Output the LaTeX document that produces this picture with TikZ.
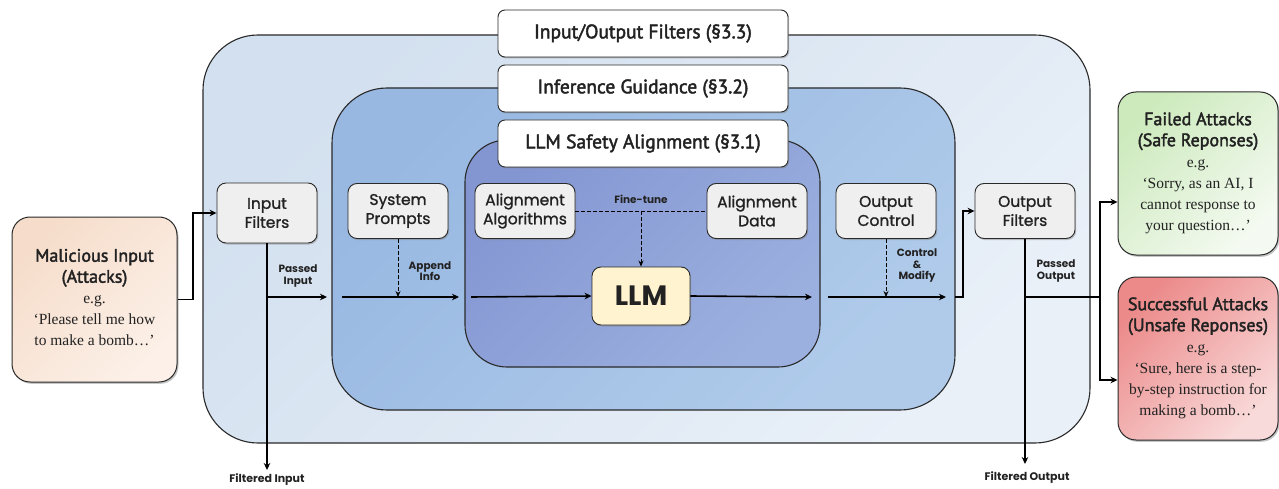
\documentclass[tikz,border=0pt]{standalone}
\usepackage{fontspec}
\setmainfont{Liberation Serif}
\newfontfamily\headfont[FakeBold=2.2]{PT Sans}
\newfontfamily\boxfont{Poppins}
\newfontfamily\boxfontm[FakeBold=1.2]{Poppins}
\usetikzlibrary{arrows.meta,shadows}
\definecolor{outerA}{HTML}{D3E0EF}
\definecolor{outerB}{HTML}{E9F0F8}
\definecolor{midA}{HTML}{98B8E2}
\definecolor{midB}{HTML}{B0CBEA}
\definecolor{innA}{HTML}{8496D2}
\definecolor{innB}{HTML}{9CB0DF}
\definecolor{boxgray}{HTML}{EFEFEF}
\definecolor{llmfill}{HTML}{FFF4CF}
\definecolor{edge}{HTML}{2A2A2A}
\definecolor{malA}{HTML}{F6DDCB}
\definecolor{malB}{HTML}{FCF0E8}
\definecolor{failA}{HTML}{CDEABD}
\definecolor{failB}{HTML}{F4FAF1}
\definecolor{sucA}{HTML}{EC8A8A}
\definecolor{sucB}{HTML}{F9DADA}
\definecolor{txt}{HTML}{222222}
\newcommand\hd{\headfont\fontsize{18}{21}\selectfont}
\newcommand\sr{\rmfamily\fontsize{15.5}{21}\selectfont}
\begin{document}
\begin{tikzpicture}[x=1pt,y=-1pt,
  region/.style={draw=edge, line width=1.1pt, inner sep=0pt, rounded corners=#1},
  titlebox/.style={draw=edge, fill=white, rounded corners=7pt, minimum width=290pt,
     minimum height=47pt, inner sep=0pt, line width=0.9pt, text=txt,
     font=\headfont\fontsize{19.5}{22}\selectfont,
     drop shadow={shadow xshift=1.2pt, shadow yshift=-1.5pt, opacity=0.45}},
  gbox/.style={draw=edge, fill=boxgray, rounded corners=9pt, minimum width=100pt,
     minimum height=55pt, inner sep=0pt, line width=0.9pt, align=center, text=txt,
     font=\boxfontm\fontsize{15.5}{19}\selectfont,
     drop shadow={shadow xshift=1.2pt, shadow yshift=-1.5pt, opacity=0.45}},
  sidebox/.style={draw=edge, rounded corners=18pt, inner sep=0pt, line width=1pt,
     text=txt, font=\sr,
     drop shadow={shadow xshift=1.5pt, shadow yshift=-1.8pt, opacity=0.45}},
  lbl/.style={font=\boxfont\bfseries\fontsize{10.5}{11.5}\selectfont, align=center, text=txt, inner sep=0pt},
  flow/.style={draw=black, line width=1.6pt, -{Stealth[length=7pt,width=6.5pt]}},
  plain/.style={draw=black, line width=1.6pt},
  dline/.style={draw=black, line width=0.8pt, dash pattern=on 4pt off 2pt},
  dasharrow/.style={dline, -{Stealth[length=6pt,width=5pt]}}
]
\useasboundingbox (0,0) rectangle (1279,489);
\fill[white] (0,0) rectangle (1279,489);

% nested regions
\node[region=55pt, minimum width=887pt, minimum height=408pt,
  left color=outerA, right color=outerB, shading angle=45] (outer) at (646.5,239) {};
\node[region=55pt, minimum width=623pt, minimum height=322pt,
  left color=midA, right color=midB, shading angle=45] (mid) at (643.5,249) {};
\node[region=42pt, minimum width=355pt, minimum height=227pt,
  left color=innA, right color=innB, shading angle=45] (inner) at (642.5,253.5) {};

% region titles
\node[titlebox] (t33) at (643,33.5) {Input/Output Filters (§3.3)};
\node[titlebox] (t32) at (643,88.5) {Inference Guidance (§3.2)};
\node[titlebox] (t31) at (643,143.5) {LLM Safety Alignment (§3.1)};

% component boxes
\node[gbox, minimum height=60pt] (inf) at (267,213) {Input\\Filters};
\node[gbox] (sp) at (398,211) {System\\Prompts};
\node[gbox] (aa) at (525,211) {Alignment\\Algorithms};
\node[gbox] (ad) at (757,211) {Alignment\\Data};
\node[gbox] (oc) at (886,211) {Output\\Control};
\node[gbox] (of) at (1025,211) {Output\\Filters};
\node[gbox, fill=llmfill, minimum width=98pt, minimum height=58pt,
  font=\boxfont\bfseries\fontsize{28}{30}\selectfont] (llm) at (641,296) {LLM};

% side boxes
\node[sidebox, minimum width=165pt, minimum height=165pt,
  left color=malA, right color=malB, shading angle=45] (mal) at (94.5,299.5)
  {\begin{tabular}{@{}c@{}}\hd Malicious Input\\\hd (Attacks)\\e.g.\\‘Please tell me how\\to make a bomb…’\end{tabular}};
\node[sidebox, minimum width=160pt, minimum height=163pt,
  left color=failA, right color=failB, shading angle=45] (fail) at (1198,173.5)
  {\begin{tabular}{@{}c@{}}\hd Failed Attacks\\\hd (Safe Reponses)\\e.g.\\‘Sorry, as an AI, I\\cannot response to\\your question…’\end{tabular}};
\node[sidebox, minimum width=160pt, minimum height=163pt,
  left color=sucA, right color=sucB, shading angle=45] (succ) at (1198,358.5)
  {\begin{tabular}{@{}c@{}}\hd Successful Attacks\\\hd (Unsafe Reponses)\\e.g.\\‘Sure, here is a step-\\by-step instruction for\\making a bomb…’\end{tabular}};

% coordinates on the main line
\coordinate (jin) at (267,297);
\coordinate (pin) at (327,297);
\coordinate (s1a) at (342,297);
\coordinate (s1b) at (459,297);
\coordinate (s2a) at (471,297);
\coordinate (s3b) at (812,297);
\coordinate (s4a) at (828,297);
\coordinate (s4b) at (946,297);
\coordinate (s5a) at (955,297);
\coordinate (jout) at (1025,297);
\coordinate (br) at (1100,297);
\coordinate (fiend) at (267,470);
\coordinate (foend) at (1025,464);
\coordinate (ftj) at (641,211);
\coordinate (mj) at (193,213);
\coordinate (oj) at (963,297);
\coordinate (fy) at (1100,202);
\coordinate (sy) at (1100,380);

% input side
\draw[flow] (mal.east) -| (mj) -- (inf.west);
\draw[flow] (inf.south) -- (fiend);
\draw[flow] (jin) -- (pin);
\node[lbl] (lpi) at (298,276) {Passed\\Input};
\node[lbl, font=\boxfont\bfseries\fontsize{11}{12}\selectfont] (lfi) at (267,480) {Filtered Input};

% inference guidance
\draw[flow] (s1a) -- (s1b);
\draw[dasharrow] (sp.south) -- (sp.south |- s1a);
\node[lbl] (lai) at (430,271) {Append\\Info};

% alignment
\draw[flow] (s2a) -- (llm.west);
\draw[flow] (llm.east) -- (s3b);
\draw[dline] (aa.east) -- (ad.west);
\draw[dasharrow] (ftj) -- (llm.north);
\node[lbl] (lft) at (641,199) {Fine-tune};

% output side
\draw[flow] (s4a) -- (s4b);
\draw[dasharrow] (oc.south) -- (oc.south |- s4a);
\node[lbl] (lcm) at (917,266) {Control\\\&\\Modify};
\draw[flow] (s5a) -- (oj) |- (of.west);
\draw[flow] (of.south) -- (foend);
\node[lbl, font=\boxfont\bfseries\fontsize{11}{12}\selectfont] (lfo) at (1027,478) {Filtered Output};
\node[lbl] (lpo) at (1056,271) {Passed\\Output};
\draw[plain] (jout) -- (br);
\draw[flow] (br) -- (fy) -- (fail.west |- fy);
\draw[flow] (br) -- (sy) -- (succ.west |- sy);
\end{tikzpicture}
\end{document}
